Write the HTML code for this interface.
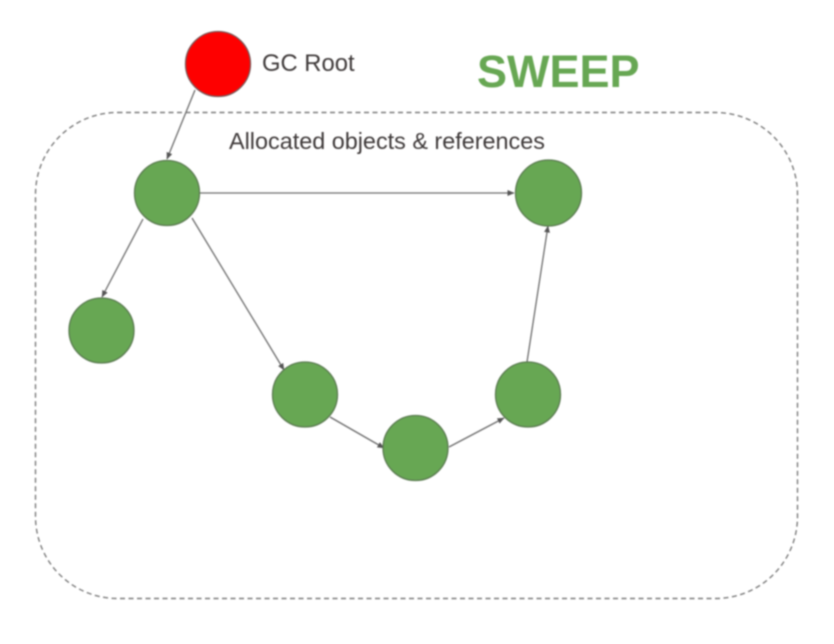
<!DOCTYPE html>
<html><head><meta charset="utf-8"><style>
html,body{margin:0;padding:0;background:#fff;width:834px;height:644px;overflow:hidden}
svg{display:block;filter:blur(.7px)}
text{font-family:"Liberation Sans",sans-serif}
</style></head><body>
<svg width="834" height="644" viewBox="0 0 834 644" xmlns="http://www.w3.org/2000/svg">
<defs><marker id="a" markerWidth="8" markerHeight="8" refX="6.5" refY="3" orient="auto" markerUnits="userSpaceOnUse"><path d="M0,0 L7,3 L0,6 Z" fill="#555"/></marker></defs>
<rect x="35.500" y="112.500" width="762" height="486" rx="82" ry="82" fill="none" stroke="#7c7c7c" stroke-width="1.400" stroke-dasharray="5 3.500"/>
<g stroke="#6c6c6c" stroke-width="1.300" fill="none" marker-end="url(#a)">
<line x1="195" y1="90" x2="167" y2="159"/>
<line x1="200" y1="193" x2="514" y2="193"/>
<line x1="143" y1="219" x2="102" y2="297"/>
<line x1="192" y1="218" x2="284" y2="370"/>
<line x1="330" y1="417" x2="384" y2="448"/>
<line x1="449" y1="447" x2="504" y2="418"/>
<line x1="527" y1="362" x2="548" y2="226"/>
</g>
<g stroke="#5a7a50" stroke-width="1.300" fill="#67a753">
<circle cx="167" cy="193" r="32.500"/>
<circle cx="548.500" cy="193" r="33"/>
<circle cx="101.500" cy="330.500" r="32.500"/>
<circle cx="305" cy="394.500" r="32.500"/>
<circle cx="415.500" cy="448" r="32.500"/>
<circle cx="528" cy="394.500" r="32.500"/>
</g>
<circle cx="218" cy="64" r="32.500" fill="#fe0000" stroke="#7a5a5a" stroke-width="1.300"/>
<text x="262" y="71" font-size="23.800" fill="#3f3a3a">GC Root</text>
<text x="229" y="149" font-size="23.400" fill="#3f3a3a">Allocated objects &amp; references</text>
<text x="477" y="87" font-size="45" font-weight="700" fill="#67a753">SWEEP</text>
</svg>
</body></html>
